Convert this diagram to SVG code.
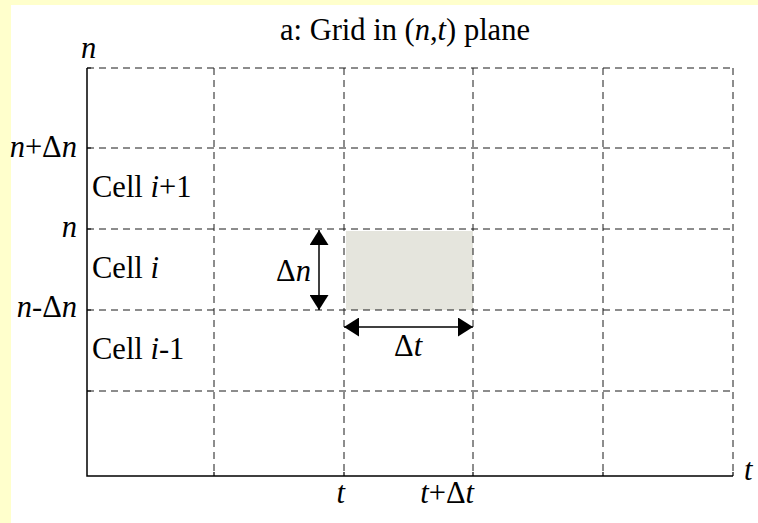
<svg xmlns="http://www.w3.org/2000/svg" width="758" height="523" viewBox="0 0 758 523">
  <style>
    text { font-family: "Liberation Serif", "Times New Roman", serif; font-size: 30.5px; fill: #000; }
    .it { font-style: italic; }
    .grid { stroke: #1a1a1a; stroke-width: 1; stroke-dasharray: 7 5; fill: none; }
    .axis { stroke: #000; stroke-width: 1.5; fill: none; }
    .tick { stroke: #000; stroke-width: 1.2; }
    .arr { stroke: #000; stroke-width: 1.5; fill: none; }
    .end { text-anchor: end; }
  </style>
  <defs>
    <marker id="ah" viewBox="0 0 15 19" refX="15" refY="9.5" markerWidth="15" markerHeight="19" markerUnits="userSpaceOnUse" orient="auto-start-reverse">
      <path d="M0,0 L15,9.5 L0,19 Z" fill="#000"/>
    </marker>
  </defs>

  <rect x="0" y="0" width="758" height="523" fill="#FFFFCC"/>
  <rect x="11" y="5" width="747" height="518" fill="#FFFFFF"/>

  <g id="title">
    <text x="405" y="40" text-anchor="middle">a: Grid in (<tspan class="it">n</tspan>,<tspan class="it">t</tspan>) plane</text>
  </g>

  <g id="shaded-cell">
    <rect x="346" y="231" width="127" height="79" fill="#E5E5DD"/>
  </g>

  <g id="grid">
    <path class="grid" d="M87,68 H733 M87,148 H733 M87,229 H733 M87,310 H733 M87,391 H733"/>
    <path class="grid" d="M214,68 V476 M344,68 V476 M473,68 V476 M603,68 V476 M733,68 V476"/>
  </g>

  <g id="axes">
    <path class="axis" d="M87,68 V476 H733"/>
    <path class="tick" d="M87,68 H91 M87,148 H91 M87,229 H91 M87,310 H91 M87,391 H91 M214,476 V472 M344,476 V472 M473,476 V472 M603,476 V472 M733,476 V472"/>
  </g>

  <g id="axis-labels">
    <text class="it" x="81" y="58">n</text>
    <text class="end" x="77" y="157"><tspan class="it">n</tspan>+Δ<tspan class="it">n</tspan></text>
    <text class="end it" x="77" y="237">n</text>
    <text class="end" x="77" y="317"><tspan class="it">n</tspan>-Δ<tspan class="it">n</tspan></text>
    <text class="end it" x="345" y="503">t</text>
    <text class="end" x="474" y="503"><tspan class="it">t</tspan>+Δ<tspan class="it">t</tspan></text>
    <text class="it" x="744" y="480">t</text>
  </g>

  <g id="cell-labels">
    <text x="92" y="197">Cell <tspan class="it">i</tspan>+1</text>
    <text x="92" y="278">Cell <tspan class="it">i</tspan></text>
    <text x="92" y="359">Cell <tspan class="it">i</tspan>-1</text>
  </g>

  <g id="connectors">
    <line class="arr" x1="319" y1="230" x2="319" y2="310" marker-start="url(#ah)" marker-end="url(#ah)"/>
    <line class="arr" x1="344" y1="327" x2="473" y2="327" marker-start="url(#ah)" marker-end="url(#ah)"/>
  </g>

  <g id="dimension-labels">
    <text x="276" y="281">Δ<tspan class="it">n</tspan></text>
    <text x="394" y="356">Δ<tspan class="it">t</tspan></text>
  </g>
</svg>
